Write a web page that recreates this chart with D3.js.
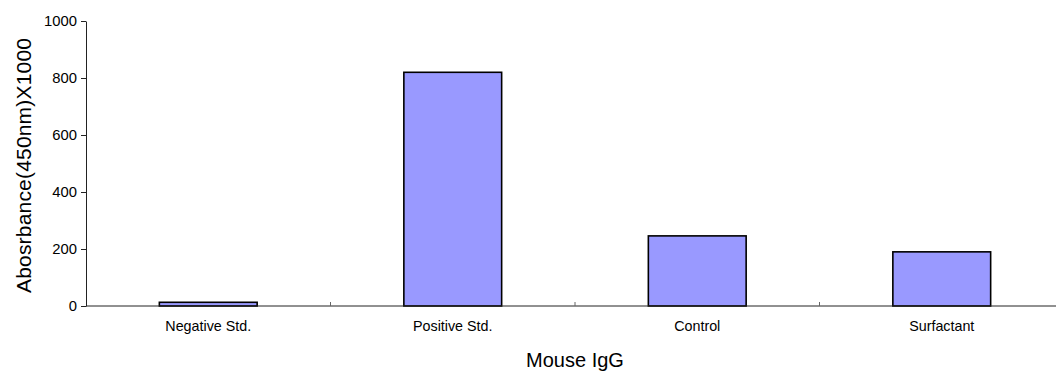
<!DOCTYPE html>
<html>
<head>
<meta charset="utf-8">
<script src="https://cdn.jsdelivr.net/npm/d3@7"></script>
<style>
  html, body { margin: 0; padding: 0; background: #fff; }
  svg { display: block; font-family: "Liberation Sans", Arial, sans-serif; }
</style>
</head>
<body>
<svg id="chart" width="1056" height="379"></svg>
<script>
// Mouse IgG absorbance readings
const categories = ["Negative Std.", "Positive Std.", "Control", "Surfactant"];
const values = [13, 820, 246, 190];
const yTicks = [0, 200, 400, 600, 800, 1000];

const svg = d3.select("#chart");
const plotLeft = 86, plotRight = 1064, plotTop = 21, plotBottom = 306;

const x = d3.scaleBand()
  .domain(categories)
  .range([plotLeft, plotRight])
  .paddingInner(0.6)
  .paddingOuter(0.3);

const y = d3.scaleLinear().domain([0, 1000]).range([plotBottom, plotTop]);

// Bars
svg.append("g").selectAll("rect")
  .data(categories)
  .join("rect")
  .attr("x", d => x(d))
  .attr("width", x.bandwidth())
  .attr("y", (d, i) => y(values[i]))
  .attr("height", (d, i) => y(0) - y(values[i]))
  .attr("fill", "#9999ff")
  .attr("stroke", "#000")
  .attr("stroke-width", 1.6);

// Y axis
const yAxis = svg.append("g")
  .attr("transform", `translate(${plotLeft},0)`)
  .call(d3.axisLeft(y).tickValues(yTicks).tickFormat(d3.format("d"))
    .tickSize(5).tickPadding(4).tickSizeOuter(0));
yAxis.attr("font-size", null).attr("font-family", null);
yAxis.select(".domain").attr("stroke", "#222");
yAxis.selectAll(".tick line").attr("stroke", "#222");
yAxis.selectAll("text")
  .style("font-size", "14.8px")
  .attr("fill", "#000");

// X axis baseline with category boundary ticks
const step = x.step();
const xAxis = svg.append("g");
xAxis.append("line")
  .attr("x1", plotLeft).attr("x2", plotRight)
  .attr("y1", y(0)).attr("y2", y(0))
  .attr("stroke", "#222");
xAxis.selectAll(".bound")
  .data(d3.range(1, categories.length))
  .join("line")
  .attr("class", "bound")
  .attr("x1", i => plotLeft + i * step).attr("x2", i => plotLeft + i * step)
  .attr("y1", y(0)).attr("y2", y(0) - 4)
  .attr("stroke", "#666");
xAxis.selectAll(".cat")
  .data(categories)
  .join("text")
  .attr("class", "cat")
  .attr("x", d => x(d) + x.bandwidth() / 2)
  .attr("y", 331)
  .attr("text-anchor", "middle")
  .style("font-size", "14.3px")
  .attr("fill", "#000")
  .text(d => d);

// Axis titles
svg.append("text")
  .attr("x", (plotLeft + plotRight) / 2)
  .attr("y", 367)
  .attr("text-anchor", "middle")
  .style("font-size", "20px")
  .attr("fill", "#000")
  .text("Mouse IgG");

svg.append("text")
  .attr("transform", "translate(23,165.5) rotate(-90)")
  .attr("text-anchor", "middle")
  .attr("dominant-baseline", "central")
  .attr("textLength", 255)
  .attr("lengthAdjust", "spacing")
  .style("font-size", "21px")
  .attr("fill", "#000")
  .text("Abosrbance(450nm)X1000");
</script>
</body>
</html>
